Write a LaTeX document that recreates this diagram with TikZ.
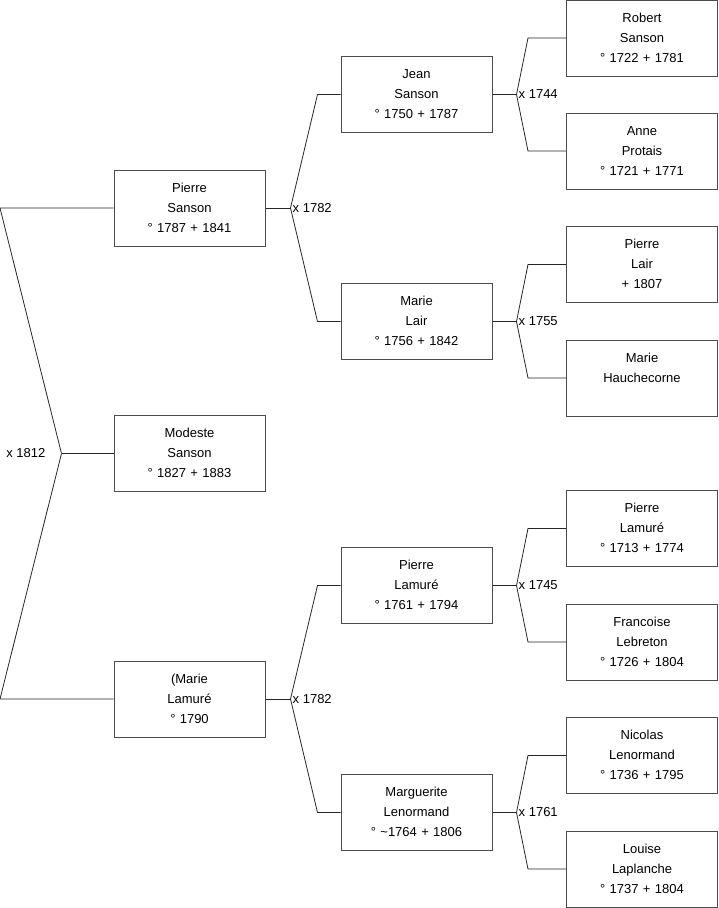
\documentclass[tikz,border=0pt]{standalone}
\usepackage{fontspec}
\setmainfont{Liberation Sans}
\usetikzlibrary{positioning}

\begin{document}
\begin{tikzpicture}[
    x=1pt, y=-1pt,
    font=\fontsize{13}{20}\selectfont,
    person/.style={draw=black!70, line width=1pt, text width=145pt, align=center,
        inner xsep=3pt, inner ysep=0pt, text height=22pt, text depth=54pt},
    link/.style={line width=0.8pt, black!85},
    wedding/.style={inner sep=2pt}
]
\useasboundingbox (0,0) rectangle (719,908);

% Column x positions
\def\colA{189.5}
\def\colB{416.5}
\def\colC{642}

% Fork from a child to both parents: child, father, mother, stem, elbow, year
\newcommand{\fork}[6]{
    \coordinate (#1-m) at ([xshift=#4pt]#1.east);
    \draw[link] (#1.east) -- (#1-m);
    \draw[link] (#1-m) -- ([xshift=-#5pt]#2.west) -- (#2.west);
    \draw[link] (#1-m) -- ([xshift=-#5pt]#3.west) -- (#3.west);
    \node[wedding, right] (#1-w) at (#1-m) {#6};
}

% ==========================================
% Generation 1
\node[person] (modeste) at (\colA, 453.5) {Modeste\\Sanson\\° 1827 + 1883};

% Generation 2
\node[person] (pierreS) at (\colA, 208) {Pierre\\Sanson\\° 1787 + 1841};
\node[person] (marieLa) at (\colA, 699) {(Marie\\Lamuré\\° 1790};

% Generation 3
\node[person] (jeanS) at (\colB, 94.5) {Jean\\Sanson\\° 1750 + 1787};
\node[person] (marieLr) at (\colB, 321.5) {Marie\\Lair\\° 1756 + 1842};
\node[person] (pierreLa) at (\colB, 585.5) {Pierre\\Lamuré\\° 1761 + 1794};
\node[person] (margL) at (\colB, 812.5) {Marguerite\\Lenormand\\° \textasciitilde1764 + 1806};

% Generation 4
\node[person] (robertS) at (\colC, 38) {Robert\\Sanson\\° 1722 + 1781};
\node[person] (anneP) at (\colC, 151) {Anne\\Protais\\° 1721 + 1771};
\node[person] (pierreLr) at (\colC, 264.5) {Pierre\\Lair\\+ 1807};
\node[person] (marieH) at (\colC, 378) {Marie\\Hauchecorne};
\node[person] (pierreLm) at (\colC, 528.5) {Pierre\\Lamuré\\° 1713 + 1774};
\node[person] (francL) at (\colC, 642) {Francoise\\Lebreton\\° 1726 + 1804};
\node[person] (nicolasL) at (\colC, 755.5) {Nicolas\\Lenormand\\° 1736 + 1795};
\node[person] (louiseL) at (\colC, 869) {Louise\\Laplanche\\° 1737 + 1804};

% ==========================================
% Parents of Modeste
\coordinate (modeste-m) at ([xshift=-52pt]modeste.west);
\draw[link] (modeste-m) -- (modeste.west);
\draw[link] (modeste-m) -- (0,0 |- pierreS.west) -- (pierreS.west);
\draw[link] (modeste-m) -- (0,0 |- marieLa.west) -- (marieLa.west);
\node[wedding, left=14pt of modeste-m] (modeste-w) {x 1812};

% Further generations
\fork{pierreS}{jeanS}{marieLr}{25}{23}{x 1782}
\fork{marieLa}{pierreLa}{margL}{25}{23}{x 1782}
\fork{jeanS}{robertS}{anneP}{24}{38}{x 1744}
\fork{marieLr}{pierreLr}{marieH}{24}{38}{x 1755}
\fork{pierreLa}{pierreLm}{francL}{24}{38}{x 1745}
\fork{margL}{nicolasL}{louiseL}{24}{38}{x 1761}

\end{tikzpicture}
\end{document}
